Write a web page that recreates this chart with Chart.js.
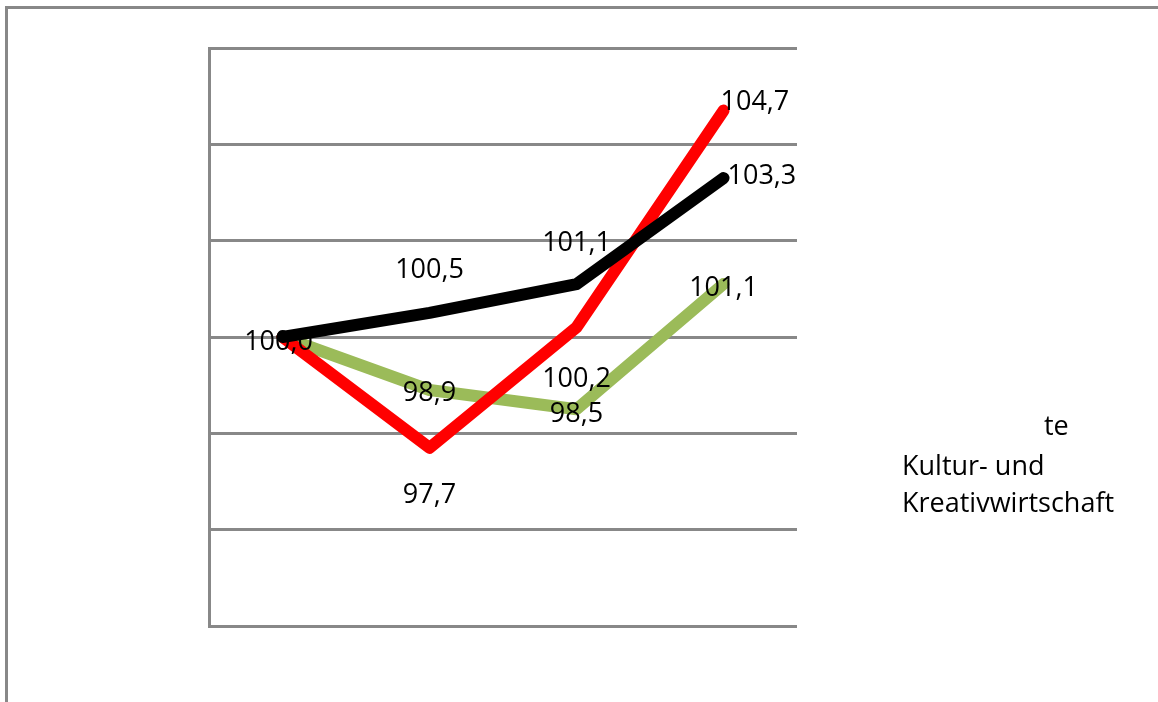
<!DOCTYPE html>
<html lang="de">
<head>
    <meta charset="UTF-8">
    <title>Index</title>
    <style>
        html, body { margin: 0; padding: 0; background: #fff; }
        #wrap { position: relative; width: 1158px; height: 702px; overflow: hidden; }
        #frame { position: absolute; left: 5px; top: 6px; width: 1200px; height: 800px;
                 border-left: 3px solid #888; border-top: 3px solid #888; }
        .leg { position: absolute; font-family: "Open Sans", sans-serif; font-size: 27px; line-height: 36px; color: #000; white-space: nowrap; }
        canvas { position: absolute; left: 0; top: 0; }
    </style>
</head>
<body>
<div id="wrap">
    <div id="frame"></div>
    <canvas id="chart-area" width="1158" height="702"></canvas>
    <div class="leg" style="left:1044px; top:407px;">te</div>
    <div class="leg" style="left:902px; top:447px;">Kultur- und</div>
    <div class="leg" style="left:902px; top:484px;">Kreativwirtschaft</div>
</div>
<script src="https://cdn.jsdelivr.net/npm/chart.js@4/dist/chart.umd.min.js"></script>
<script>
    var categories = ['1', '2', '3', '4'];
    var seriesNames = ['Gesamtwirtschaft', 'Kreativwirtschaft', 'Kultur- und Kreativwirtschaft'];
    var blackValues = [100.0, 100.5, 101.1, 103.3];
    var redValues = [100.0, 97.7, 100.2, 104.7];
    var greenValues = [100.0, 98.9, 98.5, 101.1];
    var yTicks = [94, 96, 98, 100, 102, 104, 106];

    // where each value label sits relative to its point (dx, dy, align); null = no label
    var labelPlace = [
        [[-4, 5, 'center'], [0, -43, 'center'], [0, -41, 'center'], [4, -2, 'left']],
        [null, [0, 48, 'center'], [0, 52, 'center'], [-3, -8, 'left']],
        [null, [0, 3, 'center'], [0, 5, 'center'], [0, 4, 'center']]
    ];

    function fmt(v) {
        return v.toFixed(1).replace('.', ',');
    }

    var valueLabels = {
        id: 'valueLabels',
        afterDatasetsDraw: function (chart) {
            var ctx = chart.ctx;
            ctx.save();
            ctx.font = '27px "Open Sans", sans-serif';
            ctx.fillStyle = '#000';
            ctx.textBaseline = 'middle';
            chart.data.datasets.forEach(function (ds, i) {
                var meta = chart.getDatasetMeta(i);
                meta.data.forEach(function (pt, j) {
                    var p = labelPlace[i][j];
                    if (!p) return;
                    ctx.textAlign = p[2];
                    ctx.fillText(fmt(ds.data[j]), pt.x + p[0], pt.y + p[1]);
                });
            });
            ctx.restore();
        }
    };

    function line(label, data, color) {
        return {
            label: label,
            data: data,
            borderColor: color,
            backgroundColor: color,
            borderWidth: 12,
            pointRadius: 0,
            tension: 0,
            borderCapStyle: 'round',
            borderJoinStyle: 'round',
            fill: false
        };
    }

    var config = {
        type: 'line',
        data: {
            labels: categories,
            datasets: [
                line(seriesNames[0], blackValues, '#000000'),
                line(seriesNames[1], redValues, '#ff0000'),
                line(seriesNames[2], greenValues, '#9bbb59')
            ]
        },
        options: {
            responsive: false,
            animation: false,
            layout: { padding: { left: 209, top: 48, right: 361, bottom: 76 } },
            plugins: {
                legend: { display: false },
                tooltip: { enabled: false }
            },
            scales: {
                x: {
                    offset: true,
                    grid: { display: false },
                    border: { display: false },
                    ticks: { display: false },
                    afterFit: function (s) { s.height = 0; }
                },
                y: {
                    min: yTicks[0],
                    max: yTicks[yTicks.length - 1],
                    afterBuildTicks: function (s) {
                        s.ticks = yTicks.map(function (v) { return { value: v }; });
                    },
                    grid: { color: '#888', lineWidth: 3, drawTicks: false },
                    border: { display: true, color: '#888', width: 3 },
                    ticks: { display: false },
                    afterFit: function (s) { s.width = 0; }
                }
            }
        },
        plugins: [valueLabels]
    };

    var ctx = document.getElementById('chart-area').getContext('2d');
    window.myLine = new Chart(ctx, config);
</script>
</body>
</html>
